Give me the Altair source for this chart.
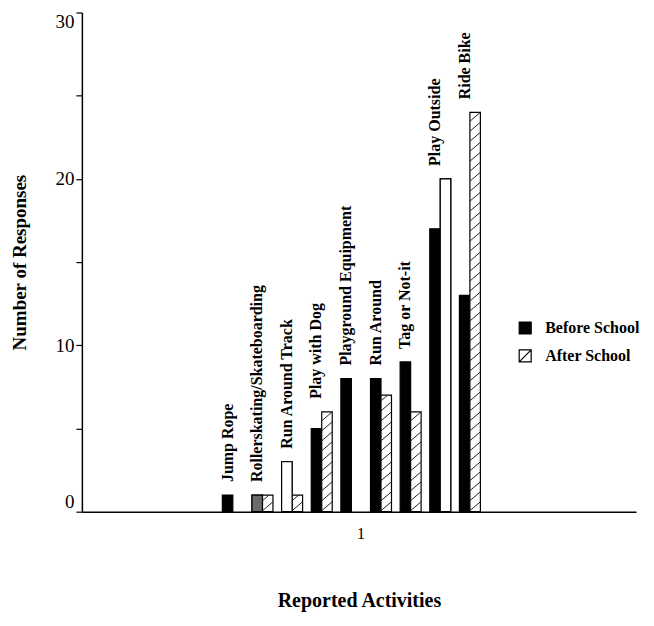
import altair as alt
import pandas as pd

# ---------------- data ----------------
activities = [
    "Jump Rope",
    "Rollerskating/Skateboarding",
    "Run Around Track",
    "Play with Dog",
    "Playground Equipment",
    "Run Around",
    "Tag or Not-it",
    "Play Outside",
    "Ride Bike",
]
before_school = [1, 1, 3, 5, 8, 8, 9, 17, 13]
after_school = [0, 1, 1, 6, 0, 7, 6, 20, 24]
series_names = ["Before School", "After School"]
category_label = "1"
y_ticks = [0, 5, 10, 15, 20, 25, 30]

# ---------------- layout / style constants ----------------
SERIF = "Liberation Serif"
X_MAX = 18.7          # x axis length in group steps
FIRST_LEFT = 4.74     # left edge of first bar, in group steps
BAR_W = 0.354         # bar width, in group steps
CAT_POS = 9.40        # where the single category label sits
Y_MAX = 30
HATCH_GAP = 0.6       # vertical spacing of hatch lines (data units)
HATCH_RISE = 0.54     # rise of a hatch line across one bar (data units)

# printing artefacts of the original (bars rendered in another shade)
shade_override = {
    ("Rollerskating/Skateboarding", "Before School"): "#6a6a6a",
    ("Run Around Track", "Before School"): "white",
    ("Play Outside", "After School"): "white",
}

bar_rows, over_rows, hatch_rows, label_rows = [], [], [], []
for i, act in enumerate(activities):
    left = FIRST_LEFT + i
    for s, (name, vals) in enumerate(zip(series_names, [before_school, after_school])):
        v = vals[i]
        if v <= 0:
            continue
        x0 = left + s * BAR_W
        x1 = x0 + BAR_W
        row = {"activity": act, "series": name, "value": v, "x0": x0, "x1": x1}
        bar_rows.append(row)
        key = (act, name)
        if key in shade_override:
            over_rows.append(dict(row, shade=shade_override[key]))
        elif name == "After School":
            y0 = -HATCH_RISE
            while y0 < v:
                t0 = max(0.0, (0 - y0) / HATCH_RISE)
                t1 = min(1.0, (v - y0) / HATCH_RISE)
                if t1 > t0:
                    hatch_rows.append({
                        "x0": x0 + t0 * BAR_W, "x1": x0 + t1 * BAR_W,
                        "value": y0 + t0 * HATCH_RISE, "v2": y0 + t1 * HATCH_RISE,
                    })
                y0 += HATCH_GAP
    label_rows.append({
        "activity": act,
        "x0": left + BAR_W / 2,
        "value": max(before_school[i], after_school[i]),
    })

bars_df = pd.DataFrame(bar_rows)
over_df = pd.DataFrame(over_rows)
hatch_df = pd.DataFrame(hatch_rows)
label_df = pd.DataFrame(label_rows)

x_scale = alt.Scale(domain=[0, X_MAX], nice=False, zero=False)
y_scale = alt.Scale(domain=[0, Y_MAX], nice=False)

x_axis = alt.Axis(
    values=[CAT_POS], labelExpr=f"'{category_label}'", ticks=False, grid=False,
    domainColor="black", domainWidth=1.5,
    labelFont=SERIF, labelFontSize=16, labelColor="black", labelPadding=14,
    title="Reported Activities", titleFont=SERIF, titleFontSize=20,
    titleFontWeight="bold", titleColor="black", titlePadding=49,
)
y_axis = alt.Axis(
    values=y_ticks, labelExpr="datum.value % 10 == 0 ? datum.label : ''",
    grid=False, domainColor="black", domainWidth=1.5,
    tickColor="black", tickSize=6, tickWidth=1.2,
    labelFont=SERIF, labelFontSize=19, labelColor="black", labelFlush=True,
    labelPadding=2,
    title="Number of Responses", titleFont=SERIF, titleFontSize=19,
    titleFontWeight="bold", titleColor="black", titlePadding=25,
)

legend_symbol = "M-1,-1H1V1H-1Z M-1,1L1,-1"

bars = alt.Chart(bars_df).mark_rect(stroke="black", strokeWidth=1.2).encode(
    x=alt.X("x0:Q", scale=x_scale, axis=x_axis),
    x2="x1:Q",
    y=alt.Y("value:Q", scale=y_scale, axis=y_axis),
    y2=alt.datum(0),
    fill=alt.Fill(
        "series:N",
        scale=alt.Scale(domain=series_names, range=["black", "white"]),
        legend=alt.Legend(
            title=None, orient="none", legendX=436, legendY=308, padding=0,
            symbolType=legend_symbol, symbolSize=144,
            symbolStrokeColor="black", symbolStrokeWidth=1.2,
            labelFont=SERIF, labelFontSize=16, labelFontWeight="bold",
            labelColor="black", labelOffset=12, rowPadding=10,
        ),
    ),
)

overrides = alt.Chart(over_df).mark_rect(stroke="black", strokeWidth=1.2).encode(
    x=alt.X("x0:Q", scale=x_scale),
    x2="x1:Q",
    y=alt.Y("value:Q", scale=y_scale),
    y2=alt.datum(0),
    fill=alt.Fill("shade:N", scale=None, legend=None),
)

hatch = alt.Chart(hatch_df).mark_rule(color="#222222", strokeWidth=1).encode(
    x=alt.X("x0:Q", scale=x_scale),
    x2="x1:Q",
    y=alt.Y("value:Q", scale=y_scale),
    y2="v2:Q",
)

labels = alt.Chart(label_df).mark_text(
    angle=270, align="left", baseline="middle", dx=13,
    font=SERIF, fontSize=16, fontWeight="bold", color="black",
).encode(
    x=alt.X("x0:Q", scale=x_scale),
    y=alt.Y("value:Q", scale=y_scale),
    text="activity:N",
)

chart = alt.layer(bars, overrides, hatch, labels).properties(
    width=555,
    height=500,
    autosize=alt.AutoSizeParams(type="none"),
    padding={"left": 74, "top": 4, "right": 10, "bottom": 110},
    background="white",
).configure_view(stroke=None)

chart.save("out.html", embed_options={"renderer": "svg", "actions": False})
